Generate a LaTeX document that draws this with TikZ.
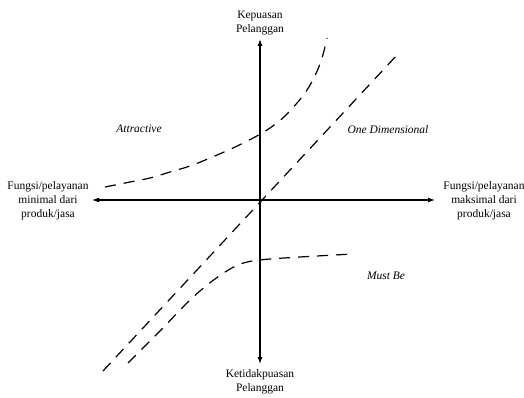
\documentclass[tikz,border=0pt]{standalone}
\usepackage{fontspec}
\setmainfont{Liberation Serif}
\usetikzlibrary{arrows.meta}
\begin{document}
\begin{tikzpicture}[x=1pt,y=-1pt,
  axis/.style={line width=1.1pt,{Latex[length=7pt,width=5pt]}-{Latex[length=7pt,width=5pt]}},
  curve/.style={line width=1.2pt,dash pattern=on 11pt off 8pt},
  lbl/.style={font=\fontsize{11.5}{14}\selectfont,align=center,inner sep=1pt},
  zone/.style={font=\fontsize{11.5}{14}\selectfont\itshape,inner sep=1pt}]
\useasboundingbox (0,0) rectangle (524,398);
% axis end points
\coordinate (O) at (260,200);
\coordinate (xl) at (92,200);
\coordinate (xr) at (435,200);
\coordinate (yt) at (260,39);
\coordinate (yb) at (260,364);
% labels
\node[lbl,anchor=south] (top) at (260,36) {Kepuasan\\Pelanggan};
\node[lbl,anchor=north] (bot) at (260,368) {Ketidakpuasan\\Pelanggan};
\node[lbl] (left) at (48,201) {Fungsi/pelayanan\\minimal dari\\produk/jasa};
\node[lbl] (right) at (484,201) {Fungsi/pelayanan\\maksimal dari\\produk/jasa};
\node[zone] (attr) at (139,129) {Attractive};
\node[zone] (onedim) at (388,130) {One Dimensional};
\node[zone] (must) at (386,276) {Must Be};
% axes
\draw[axis] (xl) -- (xr);
\draw[axis] (yb) -- (yt);
% curves
\draw[curve] plot[smooth,tension=0.6] coordinates {(105,187) (130,182) (150,178) (170,172) (190,166) (210,158) (233,148) (255,137) (270,128) (287,114) (307,90) (320,64) (327,38)};
\draw[curve] (103,371) -- (397,55);
\draw[curve] plot[smooth,tension=0.6] coordinates {(128,363) (160,331) (190,300) (215,279) (238,265) (260,260) (300,257) (353,254)};
\end{tikzpicture}
\end{document}
